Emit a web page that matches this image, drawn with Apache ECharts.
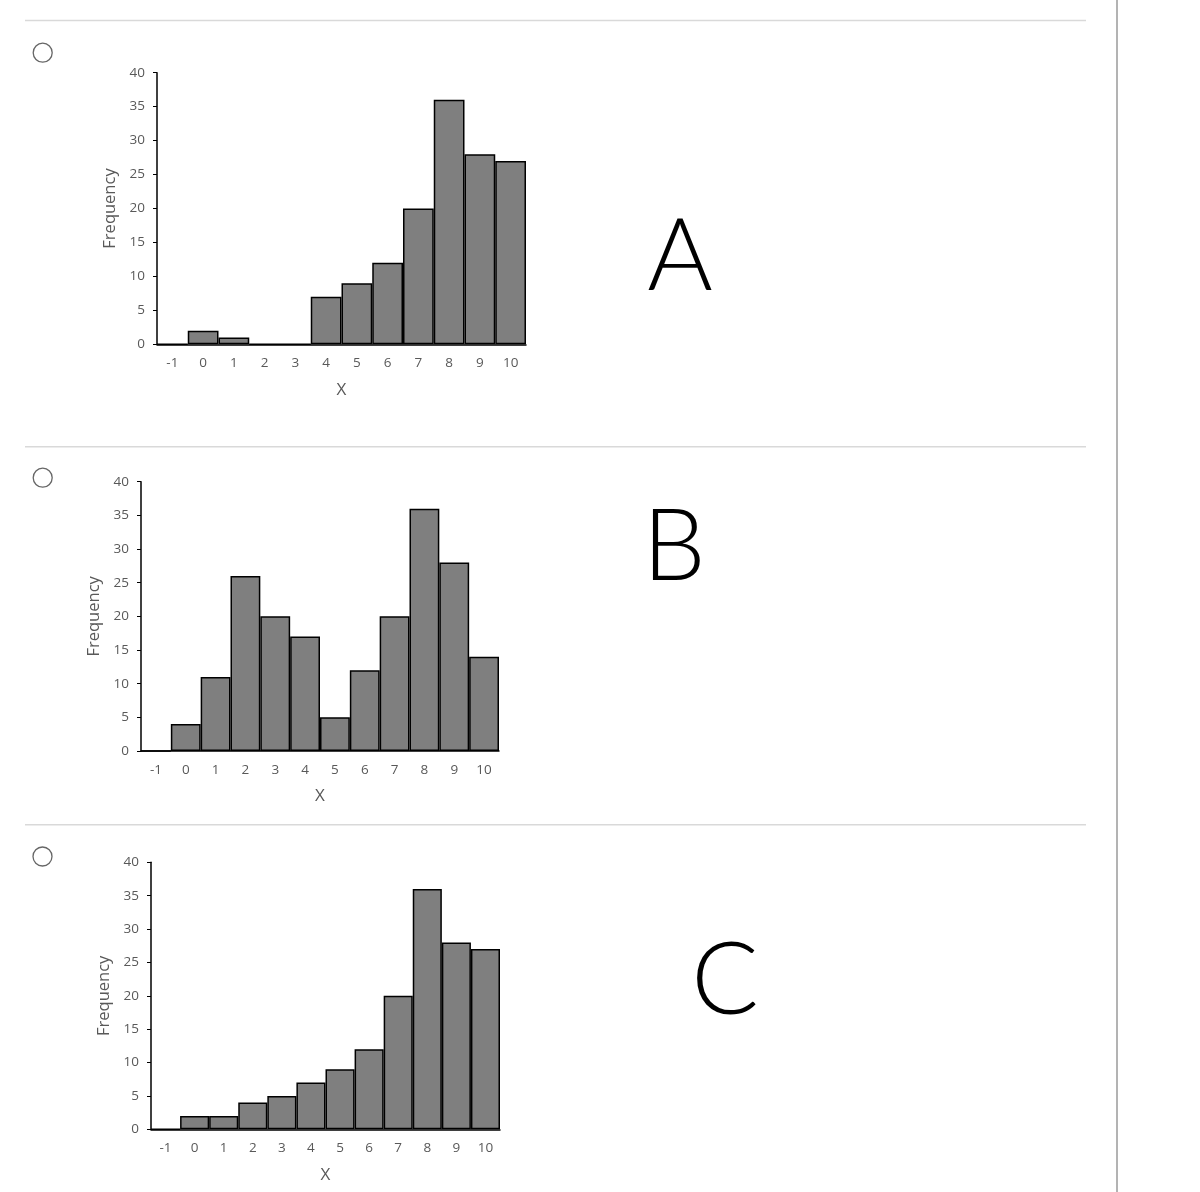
<!DOCTYPE html>
<html>
<head>
<meta charset="utf-8">
<script src="https://cdn.jsdelivr.net/npm/echarts@6/dist/echarts.min.js"></script>
<style>
html,body{margin:0;padding:0;background:#fff;}
#chart{width:1200px;height:1192px;}
</style>
</head>
<body>
<div id="chart"></div>
<script>
// ---- data ----
const xLabels = ['-1','0','1','2','3','4','5','6','7','8','9','10'];
const freqA = [0, 2, 1, 0, 0, 7, 9, 12, 20, 36, 28, 27];
const freqB = [0, 4, 11, 26, 20, 17, 5, 12, 20, 36, 28, 14];
const freqC = [0, 2, 2, 4, 5, 7, 9, 12, 20, 36, 28, 27];
const yMin = 0, yMax = 40, yStep = 5;
const xName = 'X';
const yName = 'Frequency';
const optionLetters = ['A', 'B', 'C'];

const chart = echarts.init(document.getElementById('chart'), null, {renderer: 'canvas'});

const grids = [
  {left: 157, top: 72.7, width: 369, height: 271.6},
  {left: 141, top: 481.7, width: 358, height: 269.3},
  {left: 151, top: 862.3, width: 349, height: 267}
];
const seriesData = [freqA, freqB, freqC];
const labelColor = '#595959';
const font = '"Open Sans", sans-serif';

const xAxes = grids.map((g, i) => ({
  type: 'category', gridIndex: i, data: xLabels,
  axisLine: {lineStyle: {color: '#000', width: 1.5}},
  axisTick: {show: false},
  axisLabel: {color: labelColor, fontSize: 13.5, fontFamily: font, margin: 12},
  name: xName, nameLocation: 'middle', nameGap: 37,
  nameTextStyle: {color: labelColor, fontSize: 17, fontFamily: font}
}));
const yAxes = grids.map((g, i) => ({
  type: 'value', gridIndex: i, min: yMin, max: yMax, interval: yStep,
  axisLine: {show: true, lineStyle: {color: '#000', width: 1.5}},
  axisTick: {show: true, length: 4, lineStyle: {color: '#000', width: 1}},
  splitLine: {show: false},
  axisLabel: {color: labelColor, fontSize: 13.5, fontFamily: font, margin: 12},
  name: yName, nameLocation: 'middle', nameGap: 38,
  nameTextStyle: {color: labelColor, fontSize: 16.5, fontFamily: font}
}));
const series = seriesData.map((d, i) => ({
  type: 'bar', xAxisIndex: i, yAxisIndex: i, data: d,
  barCategoryGap: '0%',
  itemStyle: {color: '#7f7f7f', borderColor: '#000', borderWidth: 1.5},
  silent: true
}));

// decorative page elements
const sepYs = [20.5, 446.7, 824.7];
const radioPos = [[42.7, 52.7], [42.7, 477.7], [42.5, 856.5]];
const letterPos = [[680, 258], [674, 548], [725, 982]];
const graphics = [];
sepYs.forEach(y => graphics.push({type: 'line', shape: {x1: 25, y1: y, x2: 1086, y2: y}, style: {stroke: '#d9d9d9', lineWidth: 1.5}, silent: true}));
graphics.push({type: 'line', shape: {x1: 1117, y1: 0, x2: 1117, y2: 1192}, style: {stroke: '#9a9a9a', lineWidth: 1.5}, silent: true});
radioPos.forEach(p => graphics.push({type: 'circle', shape: {cx: p[0], cy: p[1], r: 9.5}, style: {fill: '#fff', stroke: '#666', lineWidth: 1.3}, silent: true}));
optionLetters.forEach((t, i) => graphics.push({
  type: 'text', x: letterPos[i][0], y: letterPos[i][1],
  style: {text: t, fontSize: 100, fontFamily: 'Lato, sans-serif', fontWeight: 300, fill: '#000', align: 'center', verticalAlign: 'middle'},
  silent: true
}));

chart.setOption({
  animation: false,
  backgroundColor: '#fff',
  grid: grids,
  xAxis: xAxes,
  yAxis: yAxes,
  series: series,
  graphic: graphics
});
</script>
</body>
</html>
